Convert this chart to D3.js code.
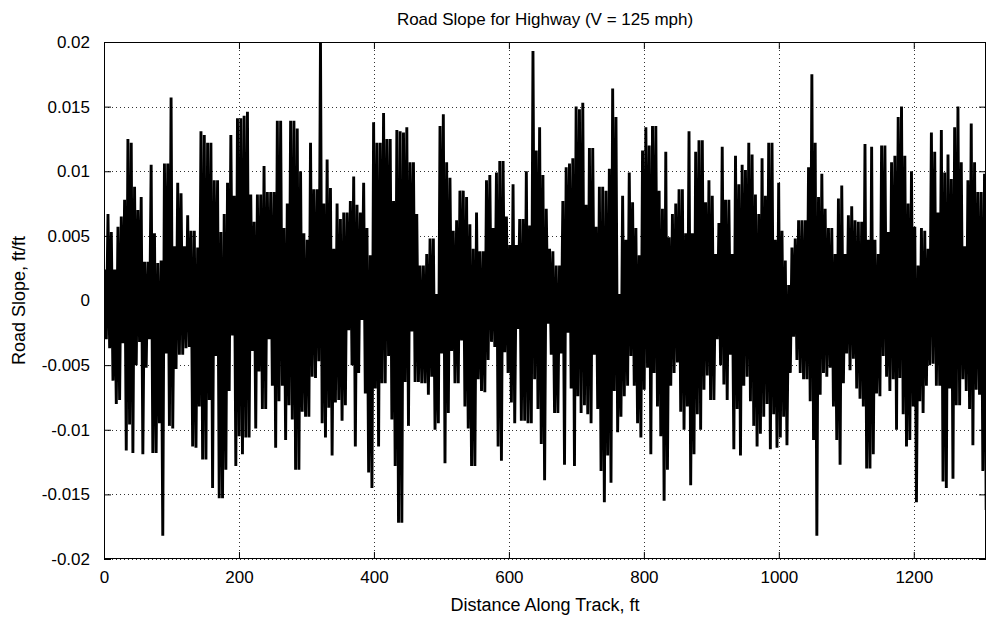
<!DOCTYPE html>
<html><head><meta charset="utf-8">
<script src="https://cdn.jsdelivr.net/npm/d3@7"></script>
<style>body{margin:0;background:#fff} svg{display:block} text{font-family:"Liberation Sans",Arial,Helvetica,sans-serif;fill:#000}</style>
</head><body><svg id="c" width="990" height="621"></svg>
<script>
const title = "Road Slope for Highway (V = 125 mph)";
const xLabel = "Distance Along Track, ft";
const yLabel = "Road Slope, ft/ft";
const xTicks = [0, 200, 400, 600, 800, 1000, 1200];
const xTickLabels = ["0", "200", "400", "600", "800", "1000", "1200"];
const yTicks = [-0.02, -0.015, -0.01, -0.005, 0, 0.005, 0.01, 0.015, 0.02];
const yTickLabels = ["-0.02", "-0.015", "-0.01", "-0.005", "0", "0.005", "0.01", "0.015", "0.02"];
const xMax = 1307;
const sampleStart = 1, sampleStep = 2.46;   // ft between successive samples
// road slope samples (ft/ft), in order along the track
const slope = [
 0.0024,-0.003, 0.0067,-0.0037, 0.0053,-0.0062, 0.0024,-0.008, 0.0057,-0.0077, 0.0065,-0.0033, 0.0078,-0.0116, 0.0125,-0.0096, 0.0122,-0.0118, 0.0088,-0.005,
 0.007,-0.0032, 0.008,-0.0119, 0.003,-0.0052, 0.003,-0.003, 0.0105,-0.0118, 0.0052,-0.0118, 0.0029,-0.0095, 0.0031,-0.0182, 0.0106,-0.0041, 0.0106,-0.0097,
 0.0157,-0.0099, 0.0042,-0.0053, 0.0091,-0.0042, 0.0083,-0.0042, 0.0042,-0.0037, 0.0066,-0.0036, 0.0054,-0.0113, 0.0054,-0.0114, 0.0041,-0.0082,
 0.0131,-0.0123, 0.0128,-0.0123, 0.0122,-0.0077, 0.0122,-0.0145, 0.0093,-0.0043, 0.0093,-0.0153, 0.0053,-0.0153, 0.0067,-0.0131, 0.0091,-0.007, 0.0128,-0.0027,
 0.0081,-0.0128, 0.0141,-0.0105, 0.0141,-0.0119, 0.0143,-0.0106, 0.0146,-0.0106, 0.0082,-0.0039, 0.0061,-0.0099, 0.0082,-0.0055, 0.0082,-0.0084, 0.0104,-0.0084,
 0.0084,-0.003, 0.0084,-0.0066, 0.0084,-0.0114, 0.0139,-0.0078, 0.0139,-0.0066, 0.0056,-0.0108, 0.0075,-0.0081, 0.0139,-0.0092, 0.0139,-0.0131, 0.0133,-0.0131,
 0.01,-0.0086, 0.0052,-0.009, 0.0047,-0.009, 0.0122,-0.0059, 0.0086,-0.006, 0.0086,-0.0047, 0.0200,-0.0095, 0.0075,-0.0106, 0.0109,-0.0083, 0.0087,-0.012,
 0.004,-0.0079, 0.0075,-0.0077, 0.0063,-0.0093, 0.0068,-0.0081, 0.0068,-0.0023, 0.0077,-0.005, 0.0096,-0.0113, 0.0074,-0.0056, 0.0068,-0.0015, 0.0091,-0.0072,
 0.0056,-0.0133, 0.0035,-0.0145, 0.0138,-0.0068, 0.0122,-0.0113, 0.0122,-0.0064, 0.0145,-0.0064, 0.0125,-0.0043, 0.0125,-0.0092, 0.0077,-0.0128, 0.0132,-0.0172,
 0.0131,-0.0172, 0.013,-0.0063, 0.0134,-0.0097, 0.0107,-0.0024, 0.0107,-0.0063, 0.0067,-0.0063, 0.0027,-0.0064, 0.0027,-0.0064, 0.0036,-0.0073, 0.0048,-0.0059,
 0.0048,-0.01, 0.0005,-0.0095, 0.0135,-0.0041, 0.0144,-0.0126, 0.0107,-0.0087, 0.0095,-0.0039, 0.0054,-0.0064, 0.0062,-0.0064, 0.0085,-0.0031, 0.0085,-0.0082,
 0.008,-0.0099, 0.0059,-0.0128, 0.004,-0.0128, 0.0068,-0.0061, 0.0038,-0.007, 0.0038,-0.0071, 0.0093,-0.0046, 0.0097,-0.0032, 0.0056,-0.0036, 0.0099,-0.0113,
 0.0108,-0.0124, 0.0108,-0.004, 0.0065,-0.0056, 0.0043,-0.0079, 0.009,-0.0095, 0.0043,-0.0022, 0.0063,-0.0093, 0.0063,-0.0093, 0.01,-0.0095, 0.0058,-0.0095,
 0.0193,-0.0061, 0.0116,-0.0084, 0.0134,-0.0111, 0.0097,-0.0139, 0.0071,-0.0018, 0.004,-0.0042, 0.0038,-0.0087, 0.0027,-0.0087, 0.0027,-0.0041, 0.0077,-0.0127,
 0.0103,-0.0025, 0.0106,-0.0068, 0.011,-0.0128, 0.015,-0.0074, 0.0148,-0.0087, 0.0153,-0.0081, 0.0074,-0.0088, 0.0118,-0.0095, 0.0118,-0.0042, 0.0057,-0.0084,
 0.0088,-0.0132, 0.0088,-0.0156, 0.0085,-0.012, 0.0102,-0.0141, 0.0164,-0.007, 0.0142,-0.0102, 0.0005,-0.009, 0.0081,-0.0074, 0.0047,-0.0066, 0.0099,-0.0043,
 0.0076,-0.0066, 0.0056,-0.0095, 0.0035,-0.0106, 0.0116,-0.0069, 0.0134,-0.0052, 0.012,-0.0119, 0.0135,-0.0056, 0.0135,-0.0082, 0.0085,-0.0105, 0.0071,-0.0155,
 0.0115,-0.0131, 0.0049,-0.0066, 0.0067,-0.0056, 0.0075,-0.0048, 0.0086,-0.0086, 0.0086,-0.01, 0.0052,-0.0082, 0.0131,-0.0143, 0.0052,-0.0119, 0.0115,-0.0088,
 0.0124,-0.01, 0.0124,-0.0069, 0.0076,-0.0058, 0.0093,-0.0077, 0.0081,-0.0077, 0.0036,-0.003, 0.006,-0.005, 0.0119,-0.0065, 0.0078,-0.0077, 0.0078,-0.0042,
 0.0036,-0.0115, 0.0112,-0.0084, 0.009,-0.012, 0.0105,-0.0066, 0.0101,-0.0059, 0.0122,-0.0078, 0.0113,-0.0097, 0.0082,-0.0113, 0.0067,-0.0103, 0.011,-0.009,
 0.0081,-0.008, 0.0122,-0.0115, 0.0122,-0.0088, 0.0047,-0.0114, 0.0091,-0.0106, 0.0054,-0.009, 0.0031,-0.0112, 0.0012,-0.0056, 0.0041,-0.0028, 0.0048,-0.0046,
 0.0062,-0.0056, 0.0062,-0.0061, 0.0062,-0.0061, 0.0103,-0.0078, 0.0175,-0.0108, 0.0122,-0.0182, 0.008,-0.0073, 0.0098,-0.0056, 0.0071,-0.0059, 0.0056,-0.0052,
 0.0056,-0.0082, 0.0036,-0.0108, 0.0079,-0.0127, 0.0089,-0.0064, 0.0036,-0.0041, 0.0066,-0.0054, 0.0073,-0.0045, 0.0062,-0.0068, 0.0061,-0.0076, 0.0061,-0.0082,
 0.0121,-0.013, 0.0047,-0.013, 0.0119,-0.0119, 0.0047,-0.0072, 0.0036,-0.0074, 0.012,-0.0043, 0.012,-0.0059, 0.0053,-0.007, 0.0107,-0.0061, 0.0112,-0.01,
 0.0142,-0.006, 0.015,-0.0088, 0.0112,-0.0113, 0.0075,-0.0108, 0.01,-0.0082, 0.0057,-0.0156, 0.0027,-0.0078, 0.0056,-0.0087, 0.0054,-0.0066, 0.004,-0.005,
 0.013,-0.0049, 0.0115,-0.0066, 0.0068,-0.0066, 0.0132,-0.014, 0.0099,-0.0145, 0.0113,-0.0068, 0.0094,-0.0138, 0.0134,-0.0081, 0.015,-0.0081, 0.0107,-0.0061,
 0.0042,-0.007, 0.0093,-0.0084, 0.0137,-0.0112, 0.0107,-0.0069, 0.0084,-0.0073, 0.0084,-0.0132, 0.0098,-0.0162
];
const distance = slope.map((_, i) => sampleStart + i * sampleStep);

const m = {left: 104, top: 42, right: 986, bottom: 559};
const svg = d3.select("#c");
const x = d3.scaleLinear().domain([0, xMax]).range([m.left, m.right]);
const y = d3.scaleLinear().domain([-0.02, 0.02]).range([m.bottom, m.top]);

svg.append("defs").append("clipPath").attr("id", "clip")
  .append("rect").attr("x", m.left).attr("y", m.top)
  .attr("width", m.right - m.left).attr("height", m.bottom - m.top);

// grid
const grid = svg.append("g").attr("stroke", "#333").attr("stroke-width", 1).attr("stroke-dasharray", "1,3");
grid.selectAll(".gx").data(xTicks).join("line")
  .attr("x1", d => Math.round(x(d)) + 0.5).attr("x2", d => Math.round(x(d)) + 0.5)
  .attr("y1", m.top).attr("y2", m.bottom);
grid.selectAll(".gy").data(yTicks).join("line")
  .attr("y1", d => Math.round(y(d)) + 0.5).attr("y2", d => Math.round(y(d)) + 0.5)
  .attr("x1", m.left).attr("x2", m.right);

// data line
svg.append("path").datum(slope)
  .attr("clip-path", "url(#clip)")
  .attr("fill", "none").attr("stroke", "#000").attr("stroke-width", 2.9)
  .attr("stroke-linejoin", "miter").attr("stroke-miterlimit", 2)
  .attr("d", d3.line().x((d, i) => x(distance[i])).y(d => y(d)));

// axes (ticks inward on all four sides)
const tl = 7;
const axL = svg.append("g").attr("transform", `translate(${m.left},0)`)
  .call(d3.axisLeft(y).tickValues(yTicks).tickSize(-tl).tickPadding(tl + 7)
    .tickFormat((d, i) => yTickLabels[i]));
const axR = svg.append("g").attr("transform", `translate(${m.right},0)`)
  .call(d3.axisRight(y).tickValues(yTicks).tickSize(-tl).tickFormat(""));
const axB = svg.append("g").attr("transform", `translate(0,${m.bottom})`)
  .call(d3.axisBottom(x).tickValues(xTicks).tickSize(-tl).tickPadding(tl + 5)
    .tickFormat((d, i) => xTickLabels[i]));
const axT = svg.append("g").attr("transform", `translate(0,${m.top})`)
  .call(d3.axisTop(x).tickValues(xTicks).tickSize(-tl).tickFormat(""));
[axL, axR, axB, axT].forEach(a => {
  a.select(".domain").remove();
  a.selectAll("line").attr("stroke", "#000");
  a.selectAll("text").attr("font-size", 17).attr("font-family", "Liberation Sans, Arial, sans-serif");
});

// box
svg.append("rect").attr("x", m.left + 0.5).attr("y", m.top + 0.5)
  .attr("width", m.right - m.left - 1).attr("height", m.bottom - m.top - 1)
  .attr("fill", "none").attr("stroke", "#000").attr("stroke-width", 1);

svg.append("text").attr("x", (m.left + m.right) / 2).attr("y", 25)
  .attr("text-anchor", "middle").attr("font-size", 17).text(title);
svg.append("text").attr("x", (m.left + m.right) / 2).attr("y", 611)
  .attr("text-anchor", "middle").attr("font-size", 18).text(xLabel);
svg.append("text").attr("transform", `translate(25,${(m.top + m.bottom) / 2}) rotate(-90)`)
  .attr("text-anchor", "middle").attr("font-size", 18).text(yLabel);
</script></body></html>
